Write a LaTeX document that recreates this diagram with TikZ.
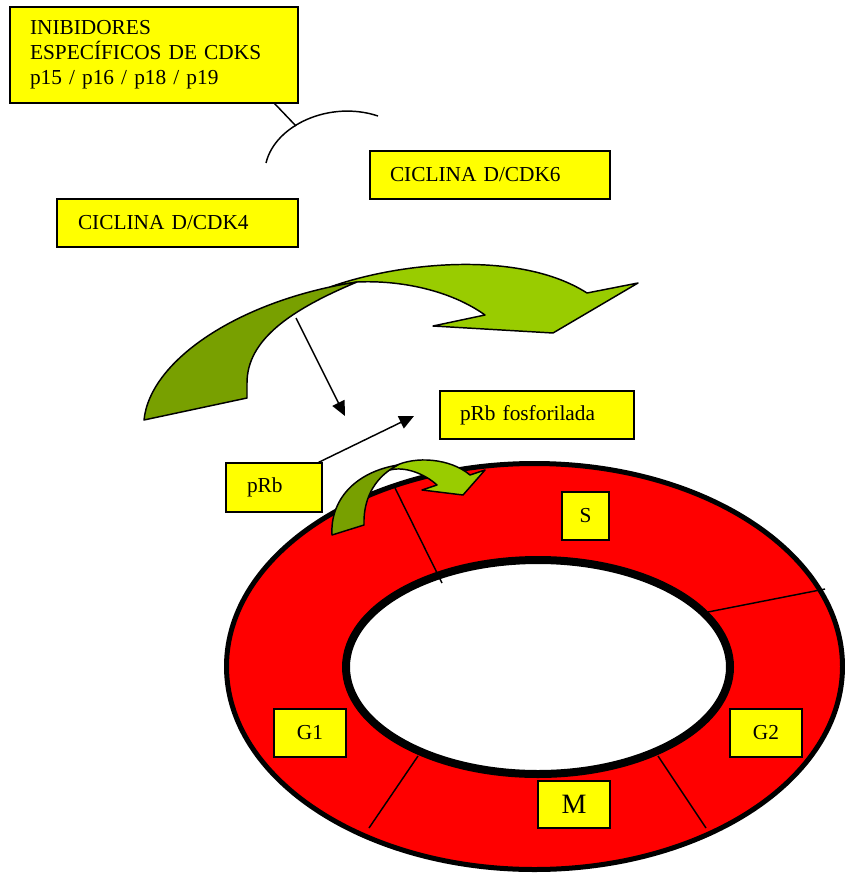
\documentclass[tikz,border=0pt]{standalone}
\usepackage{fontspec}
\setmainfont{Liberation Serif}
\usetikzlibrary{arrows.meta}
\definecolor{boxyellow}{RGB}{255,255,0}
\definecolor{ringred}{RGB}{255,0,0}
\definecolor{lgreen}{RGB}{153,204,0}
\definecolor{dgreen}{RGB}{120,160,0}
\begin{document}
\begin{tikzpicture}[x=0.75pt,y=-0.75pt,
  box/.style={draw=black, line width=1pt, fill=boxyellow, font=\fontsize{16}{18.75}\selectfont, inner ysep=0pt},
  lbox/.style={box, align=left},
  cbox/.style={box, align=center, inner xsep=0pt},
  conn/.style={line width=1.1pt, -{Triangle[length=11pt,width=10pt]}},
  thinline/.style={line width=1.1pt},
  ribbon/.style={draw=black, line width=1.1pt, line join=round}]
\useasboundingbox (0,0) rectangle (845,874);

% cell cycle ring
\draw[line width=3.75pt, fill=ringred] (534.5,666.5) ellipse [x radius=231pt, y radius=152.25pt];
\draw[line width=6pt, fill=white] (538,667) ellipse [x radius=144pt, y radius=80.25pt];
\draw[thinline] (395,488) -- (442,583);
\draw[thinline] (708,612) -- (825,589);
\draw[thinline] (418,756) -- (369,828);
\draw[thinline] (658,756) -- (706,828);

% phase boxes
\node[cbox, minimum width=35.25pt, minimum height=36pt] (S) at (585.5,516) {S};
\node[cbox, minimum width=54pt, minimum height=36pt] (G1) at (310,733) {G1};
\node[cbox, minimum width=54pt, minimum height=36pt] (G2) at (766,733) {G2};
\node[cbox, minimum width=54pt, minimum height=35.25pt, font=\fontsize{21}{24}\selectfont] (M) at (574,804.5) {M};

% big curved arrow
\draw[ribbon, fill=lgreen] (330,287) .. controls (400,262) and (520,250) .. (587,293) -- (638,283) -- (553,333) -- (433,326) -- (485,315) .. controls (450,290) and (400,280) .. (357,282) -- cycle;
\draw[ribbon, fill=dgreen] (144,420) .. controls (150,360) and (240,300) .. (357,282) .. controls (290,310) and (247,340) .. (247,383) -- (247,398) -- cycle;

% small curved arrow
\draw[ribbon, fill=lgreen] (395,466) .. controls (415,456) and (450,458) .. (470,475) -- (485,470) -- (463,495) -- (422,490) -- (437,485) .. controls (425,474) and (405,466) .. (390,470) -- cycle;
\draw[ribbon, fill=dgreen] (332,535) .. controls (330,500) and (355,472) .. (398,465) .. controls (378,475) and (363,495) .. (364,525) -- cycle;

% text boxes
\node[lbox, minimum height=72pt, text width=186pt, inner xsep=15pt] (inib) at (154,55) {INIBIDORES\\ESPECÍFICOS DE CDKS\\p15 / p16 / p18 / p19};
\node[lbox, minimum height=36pt, text width=150pt, inner xsep=15pt] (cdk6) at (490,175) {CICLINA D/CDK6};
\node[lbox, minimum height=36pt, text width=149.25pt, inner xsep=15.75pt] (cdk4) at (177.5,223) {CICLINA D/CDK4};
\node[lbox, minimum height=36pt, text width=115.5pt, inner xsep=15pt] (prbf) at (537,415) {pRb fosforilada};
\node[lbox, minimum height=36.75pt, text width=40.5pt, inner xsep=15.75pt] (prb) at (274,487.5) {pRb};

% inhibition arc
\coordinate (arcA) at (266,163);
\coordinate (arcB) at (378,116);
\coordinate (inhEnd) at (296,126);
\draw[thinline] (arcA) .. controls (275,125) and (330,100) .. (arcB);
\draw[thinline] ([xshift=-18pt]inib.south east) -- (inhEnd);

% straight arrows
\coordinate (a1s) at (296,318);
\coordinate (a1e) at (345,416);
\coordinate (a2e) at (414,416);
\draw[conn] (a1s) -- (a1e);
\draw[conn] ([xshift=-3pt]prb.north east) -- (a2e);
\end{tikzpicture}
\end{document}
